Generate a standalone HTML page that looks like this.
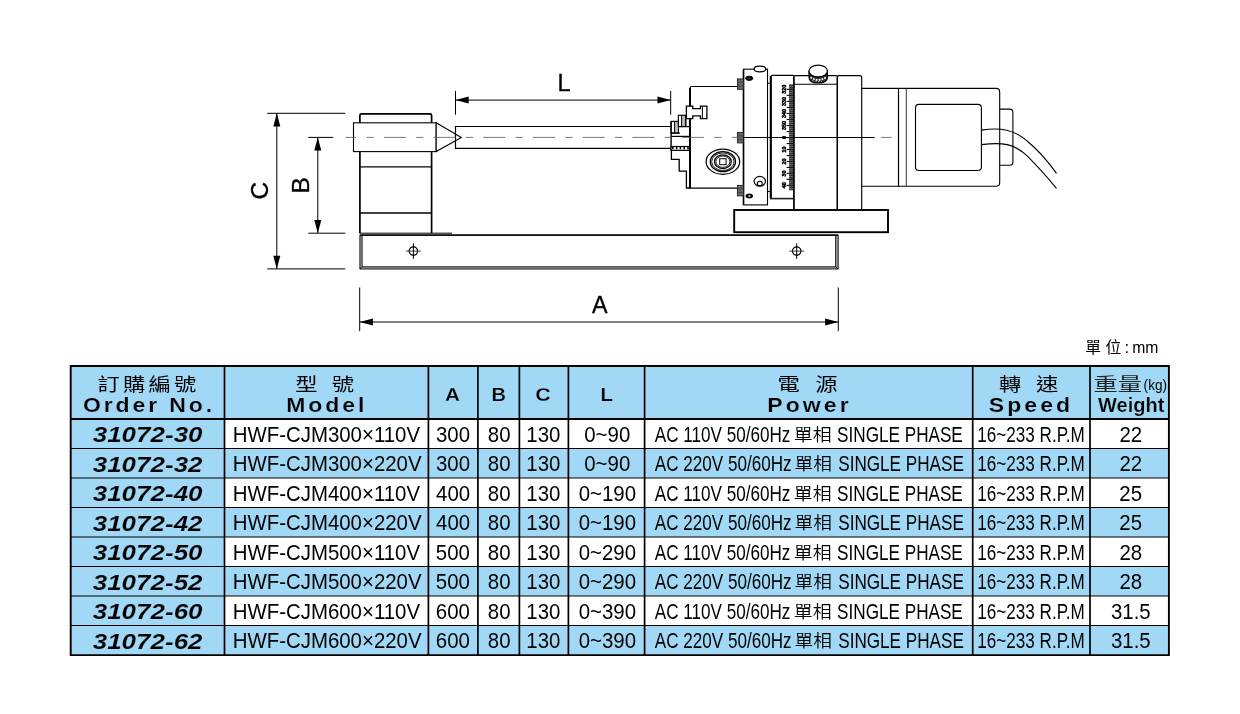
<!DOCTYPE html>
<html lang="zh-Hant">
<head>
<meta charset="utf-8">
<title>HWF-CJM</title>
<style>
html,body{margin:0;padding:0;background:#fff;}
body{width:1240px;height:714px;overflow:hidden;position:relative;}
svg{position:absolute;left:0;top:0;display:block;will-change:transform;}
text{font-family:"Liberation Sans","Noto Sans CJK TC",sans-serif;}
</style>
</head>
<body>
<svg width="1240" height="714" viewBox="0 0 1240 714">
<g id="table">
<rect x="70.7" y="366.0" width="1098.2" height="289.1" fill="#a1d8f5"/>
<rect x="224.5" y="419.0" width="944.4" height="29.5" fill="#fff"/>
<rect x="224.5" y="478.0" width="944.4" height="29.5" fill="#fff"/>
<rect x="224.5" y="537.0" width="944.4" height="29.5" fill="#fff"/>
<rect x="224.5" y="596.0" width="944.4" height="29.5" fill="#fff"/>
<line x1="70.7" y1="448.50" x2="1168.9" y2="448.50" stroke="#000" stroke-width="1.05"/>
<line x1="70.7" y1="478.00" x2="1168.9" y2="478.00" stroke="#000" stroke-width="1.05"/>
<line x1="70.7" y1="507.50" x2="1168.9" y2="507.50" stroke="#000" stroke-width="1.05"/>
<line x1="70.7" y1="537.00" x2="1168.9" y2="537.00" stroke="#000" stroke-width="1.05"/>
<line x1="70.7" y1="566.50" x2="1168.9" y2="566.50" stroke="#000" stroke-width="1.05"/>
<line x1="70.7" y1="596.00" x2="1168.9" y2="596.00" stroke="#000" stroke-width="1.05"/>
<line x1="70.7" y1="625.50" x2="1168.9" y2="625.50" stroke="#000" stroke-width="1.05"/>
<line x1="224.5" y1="366.0" x2="224.5" y2="655.1" stroke="#000" stroke-width="1.7"/>
<line x1="428.4" y1="366.0" x2="428.4" y2="655.1" stroke="#000" stroke-width="1.7"/>
<line x1="477.9" y1="366.0" x2="477.9" y2="655.1" stroke="#000" stroke-width="1.7"/>
<line x1="519.4" y1="366.0" x2="519.4" y2="655.1" stroke="#000" stroke-width="1.7"/>
<line x1="568.4" y1="366.0" x2="568.4" y2="655.1" stroke="#000" stroke-width="1.7"/>
<line x1="644.6" y1="366.0" x2="644.6" y2="655.1" stroke="#000" stroke-width="1.7"/>
<line x1="972.7" y1="366.0" x2="972.7" y2="655.1" stroke="#000" stroke-width="1.7"/>
<line x1="1090.0" y1="366.0" x2="1090.0" y2="655.1" stroke="#000" stroke-width="1.7"/>
<line x1="70.7" y1="419.0" x2="1168.9" y2="419.0" stroke="#000" stroke-width="2.1"/>
<path d="M70.7,655.1V366.0H1168.9V655.1" fill="none" stroke="#000" stroke-width="1.9" stroke-linejoin="miter"/>
<line x1="69.75" y1="655.1" x2="1169.8500000000001" y2="655.1" stroke="#000" stroke-width="1.7"/>
</g>
<g id="tabletext">
<text transform="translate(97.47,390.60) scale(1.2400,1)" font-size="18.0" font-weight="400" letter-spacing="2.599">訂購編號</text>
<text transform="translate(83.02,411.70) scale(1.1700,1)" font-size="19.7" font-weight="bold" letter-spacing="2.443" stroke="#a1d8f5" stroke-width="0.18">Order No.</text>
<text transform="translate(295.27,390.60) scale(1.2400,1)" font-size="18.0" font-weight="400" letter-spacing="3.19">型 號</text>
<text transform="translate(286.24,411.80) scale(1.1700,1)" font-size="19.7" font-weight="bold" letter-spacing="2.463" stroke="#a1d8f5" stroke-width="0.18">Model</text>
<text transform="translate(445.05,400.80) scale(1.0902,1)" font-size="19.0" font-weight="bold" stroke="#a1d8f5" stroke-width="0.25">A</text>
<text transform="translate(491.58,400.80) scale(1.0553,1)" font-size="19.0" font-weight="bold" stroke="#a1d8f5" stroke-width="0.25">B</text>
<text transform="translate(535.25,401.00) scale(1.1280,1)" font-size="19.0" font-weight="bold" stroke="#a1d8f5" stroke-width="0.25">C</text>
<text transform="translate(600.45,400.80) scale(1.0769,1)" font-size="19.0" font-weight="bold" stroke="#a1d8f5" stroke-width="0.25">L</text>
<text transform="translate(777.45,390.60) scale(1.2400,1)" font-size="18.0" font-weight="400" letter-spacing="3.726">電 源</text>
<text transform="translate(767.24,411.80) scale(1.1700,1)" font-size="19.7" font-weight="bold" letter-spacing="2.634" stroke="#a1d8f5" stroke-width="0.18">Power</text>
<text transform="translate(998.97,390.60) scale(1.2400,1)" font-size="18.0" font-weight="400" letter-spacing="3.391">轉 速</text>
<text transform="translate(988.71,411.70) scale(1.1700,1)" font-size="19.7" font-weight="bold" letter-spacing="2.632" stroke="#a1d8f5" stroke-width="0.18">Speed</text>
<text transform="translate(1093.45,391.40) scale(1.3547,1)" font-size="18.0" font-weight="400" fill="#222">重量</text>
<text transform="translate(1143.61,389.80) scale(0.8948,1)" font-size="15.2">(kg)</text>
<text transform="translate(1098.10,411.60) scale(1.0193,1)" font-size="19.6" font-weight="bold" stroke="#a1d8f5" stroke-width="0.2">Weight</text>
<text transform="translate(92.70,442.05) scale(1.1816,1)" font-size="22" font-weight="bold" font-style="italic" stroke="#a1d8f5" stroke-width="0.15">31072-30</text>
<text transform="translate(232.63,441.75) scale(0.9553,1)" font-size="21.4">HWF-CJM300×110V</text>
<text transform="translate(435.93,441.75) scale(0.9550,1)" font-size="21.4">300</text>
<text transform="translate(487.84,441.75) scale(0.9550,1)" font-size="21.4">80</text>
<text transform="translate(526.37,441.75) scale(0.9550,1)" font-size="21.4">130</text>
<text transform="translate(584.26,441.75) scale(0.9550,1)" font-size="21.4">0~90</text>
<text transform="translate(654.80,441.75) scale(0.7994,1)" font-size="21.4">AC 110V 50/60Hz</text>
<text transform="translate(793.72,440.75) scale(1.0758,1)" font-size="17.6" font-weight="350">單相</text>
<text transform="translate(837.10,441.75) scale(0.8013,1)" font-size="21.4">SINGLE PHASE</text>
<text transform="translate(977.30,441.75) scale(0.7992,1)" font-size="21.4">16~233 R.P.M</text>
<text transform="translate(1119.46,441.75) scale(0.9550,1)" font-size="21.4">22</text>
<text transform="translate(92.70,471.55) scale(1.1816,1)" font-size="22" font-weight="bold" font-style="italic" stroke="#a1d8f5" stroke-width="0.15">31072-32</text>
<text transform="translate(232.63,471.25) scale(0.9553,1)" font-size="21.4">HWF-CJM300×220V</text>
<text transform="translate(435.93,471.25) scale(0.9550,1)" font-size="21.4">300</text>
<text transform="translate(487.84,471.25) scale(0.9550,1)" font-size="21.4">80</text>
<text transform="translate(526.37,471.25) scale(0.9550,1)" font-size="21.4">130</text>
<text transform="translate(584.26,471.25) scale(0.9550,1)" font-size="21.4">0~90</text>
<text transform="translate(654.80,471.25) scale(0.7994,1)" font-size="21.4">AC 220V 50/60Hz</text>
<text transform="translate(794.62,470.25) scale(1.0624,1)" font-size="17.6" font-weight="350">單相</text>
<text transform="translate(838.20,471.25) scale(0.8013,1)" font-size="21.4">SINGLE PHASE</text>
<text transform="translate(977.30,471.25) scale(0.7992,1)" font-size="21.4">16~233 R.P.M</text>
<text transform="translate(1119.46,471.25) scale(0.9550,1)" font-size="21.4">22</text>
<text transform="translate(92.70,501.05) scale(1.1816,1)" font-size="22" font-weight="bold" font-style="italic" stroke="#a1d8f5" stroke-width="0.15">31072-40</text>
<text transform="translate(232.63,500.75) scale(0.9553,1)" font-size="21.4">HWF-CJM400×110V</text>
<text transform="translate(436.05,500.75) scale(0.9550,1)" font-size="21.4">400</text>
<text transform="translate(487.84,500.75) scale(0.9550,1)" font-size="21.4">80</text>
<text transform="translate(526.37,500.75) scale(0.9550,1)" font-size="21.4">130</text>
<text transform="translate(578.65,500.75) scale(0.9550,1)" font-size="21.4">0~190</text>
<text transform="translate(654.80,500.75) scale(0.7994,1)" font-size="21.4">AC 110V 50/60Hz</text>
<text transform="translate(793.72,499.75) scale(1.0758,1)" font-size="17.6" font-weight="350">單相</text>
<text transform="translate(837.10,500.75) scale(0.8013,1)" font-size="21.4">SINGLE PHASE</text>
<text transform="translate(977.30,500.75) scale(0.7992,1)" font-size="21.4">16~233 R.P.M</text>
<text transform="translate(1119.34,500.75) scale(0.9550,1)" font-size="21.4">25</text>
<text transform="translate(92.70,530.55) scale(1.1816,1)" font-size="22" font-weight="bold" font-style="italic" stroke="#a1d8f5" stroke-width="0.15">31072-42</text>
<text transform="translate(232.63,530.25) scale(0.9553,1)" font-size="21.4">HWF-CJM400×220V</text>
<text transform="translate(436.05,530.25) scale(0.9550,1)" font-size="21.4">400</text>
<text transform="translate(487.84,530.25) scale(0.9550,1)" font-size="21.4">80</text>
<text transform="translate(526.37,530.25) scale(0.9550,1)" font-size="21.4">130</text>
<text transform="translate(578.65,530.25) scale(0.9550,1)" font-size="21.4">0~190</text>
<text transform="translate(654.80,530.25) scale(0.7994,1)" font-size="21.4">AC 220V 50/60Hz</text>
<text transform="translate(794.62,529.25) scale(1.0624,1)" font-size="17.6" font-weight="350">單相</text>
<text transform="translate(838.20,530.25) scale(0.8013,1)" font-size="21.4">SINGLE PHASE</text>
<text transform="translate(977.30,530.25) scale(0.7992,1)" font-size="21.4">16~233 R.P.M</text>
<text transform="translate(1119.34,530.25) scale(0.9550,1)" font-size="21.4">25</text>
<text transform="translate(92.70,560.05) scale(1.1816,1)" font-size="22" font-weight="bold" font-style="italic" stroke="#a1d8f5" stroke-width="0.15">31072-50</text>
<text transform="translate(232.63,559.75) scale(0.9553,1)" font-size="21.4">HWF-CJM500×110V</text>
<text transform="translate(435.81,559.75) scale(0.9550,1)" font-size="21.4">500</text>
<text transform="translate(487.84,559.75) scale(0.9550,1)" font-size="21.4">80</text>
<text transform="translate(526.37,559.75) scale(0.9550,1)" font-size="21.4">130</text>
<text transform="translate(578.65,559.75) scale(0.9550,1)" font-size="21.4">0~290</text>
<text transform="translate(654.80,559.75) scale(0.7994,1)" font-size="21.4">AC 110V 50/60Hz</text>
<text transform="translate(793.72,558.75) scale(1.0758,1)" font-size="17.6" font-weight="350">單相</text>
<text transform="translate(837.10,559.75) scale(0.8013,1)" font-size="21.4">SINGLE PHASE</text>
<text transform="translate(977.30,559.75) scale(0.7992,1)" font-size="21.4">16~233 R.P.M</text>
<text transform="translate(1119.46,559.75) scale(0.9550,1)" font-size="21.4">28</text>
<text transform="translate(92.70,589.55) scale(1.1816,1)" font-size="22" font-weight="bold" font-style="italic" stroke="#a1d8f5" stroke-width="0.15">31072-52</text>
<text transform="translate(232.63,589.25) scale(0.9553,1)" font-size="21.4">HWF-CJM500×220V</text>
<text transform="translate(435.81,589.25) scale(0.9550,1)" font-size="21.4">500</text>
<text transform="translate(487.84,589.25) scale(0.9550,1)" font-size="21.4">80</text>
<text transform="translate(526.37,589.25) scale(0.9550,1)" font-size="21.4">130</text>
<text transform="translate(578.65,589.25) scale(0.9550,1)" font-size="21.4">0~290</text>
<text transform="translate(654.80,589.25) scale(0.7994,1)" font-size="21.4">AC 220V 50/60Hz</text>
<text transform="translate(794.62,588.25) scale(1.0624,1)" font-size="17.6" font-weight="350">單相</text>
<text transform="translate(838.20,589.25) scale(0.8013,1)" font-size="21.4">SINGLE PHASE</text>
<text transform="translate(977.30,589.25) scale(0.7992,1)" font-size="21.4">16~233 R.P.M</text>
<text transform="translate(1119.46,589.25) scale(0.9550,1)" font-size="21.4">28</text>
<text transform="translate(92.70,619.05) scale(1.1816,1)" font-size="22" font-weight="bold" font-style="italic" stroke="#a1d8f5" stroke-width="0.15">31072-60</text>
<text transform="translate(232.63,618.75) scale(0.9553,1)" font-size="21.4">HWF-CJM600×110V</text>
<text transform="translate(435.81,618.75) scale(0.9550,1)" font-size="21.4">600</text>
<text transform="translate(487.84,618.75) scale(0.9550,1)" font-size="21.4">80</text>
<text transform="translate(526.37,618.75) scale(0.9550,1)" font-size="21.4">130</text>
<text transform="translate(578.65,618.75) scale(0.9550,1)" font-size="21.4">0~390</text>
<text transform="translate(654.80,618.75) scale(0.7994,1)" font-size="21.4">AC 110V 50/60Hz</text>
<text transform="translate(793.72,617.75) scale(1.0758,1)" font-size="17.6" font-weight="350">單相</text>
<text transform="translate(837.10,618.75) scale(0.8013,1)" font-size="21.4">SINGLE PHASE</text>
<text transform="translate(977.30,618.75) scale(0.7992,1)" font-size="21.4">16~233 R.P.M</text>
<text transform="translate(1110.98,618.75) scale(0.9550,1)" font-size="21.4">31.5</text>
<text transform="translate(92.70,648.55) scale(1.1816,1)" font-size="22" font-weight="bold" font-style="italic" stroke="#a1d8f5" stroke-width="0.15">31072-62</text>
<text transform="translate(232.63,648.25) scale(0.9553,1)" font-size="21.4">HWF-CJM600×220V</text>
<text transform="translate(435.81,648.25) scale(0.9550,1)" font-size="21.4">600</text>
<text transform="translate(487.84,648.25) scale(0.9550,1)" font-size="21.4">80</text>
<text transform="translate(526.37,648.25) scale(0.9550,1)" font-size="21.4">130</text>
<text transform="translate(578.65,648.25) scale(0.9550,1)" font-size="21.4">0~390</text>
<text transform="translate(654.80,648.25) scale(0.7994,1)" font-size="21.4">AC 220V 50/60Hz</text>
<text transform="translate(794.62,647.25) scale(1.0624,1)" font-size="17.6" font-weight="350">單相</text>
<text transform="translate(838.20,648.25) scale(0.8013,1)" font-size="21.4">SINGLE PHASE</text>
<text transform="translate(977.30,648.25) scale(0.7992,1)" font-size="21.4">16~233 R.P.M</text>
<text transform="translate(1110.98,648.25) scale(0.9550,1)" font-size="21.4">31.5</text>
<text y="353.2" font-size="15.8"><tspan x="1085.3">單</tspan><tspan x="1105.6">位</tspan><tspan x="1124.4" font-size="16.4">:</tspan><tspan x="1132.2" font-size="16.4" textLength="26.2" lengthAdjust="spacingAndGlyphs">mm</tspan></text>
</g>
<g id="drawing" fill="none" stroke="#000" stroke-width="1.15" stroke-linecap="butt">
<g id="dims" stroke-width="1">
<line x1="267.3" y1="113.3" x2="345.3" y2="113.3"/>
<line x1="267.3" y1="268.9" x2="345.3" y2="268.9"/>
<line x1="276.8" y1="113.3" x2="276.8" y2="268.9"/>
<polygon points="276.8,113.3 273.3,126.5 280.3,126.5" fill="#000" stroke="none"/>
<polygon points="276.8,268.9 273.3,255.7 280.3,255.7" fill="#000" stroke="none"/>
<line x1="308.3" y1="137.4" x2="333.2" y2="137.4"/>
<line x1="308.3" y1="233.2" x2="345.3" y2="233.2"/>
<line x1="317.8" y1="137.4" x2="317.8" y2="233.2"/>
<polygon points="317.8,137.4 314.3,150.6 321.3,150.6" fill="#000" stroke="none"/>
<polygon points="317.8,233.2 314.3,220.0 321.3,220.0" fill="#000" stroke="none"/>
<line x1="455.5" y1="91" x2="455.5" y2="114.7"/>
<line x1="670.7" y1="91" x2="670.7" y2="114.8"/>
<line x1="455.5" y1="100.1" x2="670.7" y2="100.1"/>
<polygon points="455.5,100.1 468.7,96.6 468.7,103.6" fill="#000" stroke="none"/>
<polygon points="670.7,100.1 657.5,96.6 657.5,103.6" fill="#000" stroke="none"/>
<line x1="359.7" y1="287.5" x2="359.7" y2="331.2"/>
<line x1="838.3" y1="287.5" x2="838.3" y2="331.2"/>
<line x1="359.7" y1="322.0" x2="838.3" y2="322.0"/>
<polygon points="359.7,322.0 372.9,318.5 372.9,325.5" fill="#000" stroke="none"/>
<polygon points="838.3,322.0 825.0999999999999,318.5 825.0999999999999,325.5" fill="#000" stroke="none"/>
</g>
<g id="dimlabels" stroke="#000" stroke-width="0.35" fill="#000" font-size="24.4">
<text x="599.7" y="313.1" font-size="23.3" text-anchor="middle">A</text>
<text x="564.0" y="91.3" font-size="23.6" text-anchor="middle">L</text>
<text transform="translate(309.3,185.3) rotate(-90)" text-anchor="middle">B</text>
<text transform="translate(267.8,190.6) rotate(-90)" text-anchor="middle">C</text>
</g>
<g id="tailstock">
<path d="M359.9,233.2V115.4Q359.9,113.9 361.4,113.9H430.1Q431.6,113.9 431.6,115.4V233.2" stroke-width="1.7"/>
<line x1="359.9" y1="166.9" x2="431.6" y2="166.9" stroke-width="1.4"/>
<line x1="359.9" y1="213.0" x2="431.6" y2="213.0" stroke-width="1.4"/>
<rect x="353.5" y="122.8" width="82.7" height="28.8" stroke-width="1.1" fill="#fff"/>
<path d="M436.2,122.8L461.3,137.4L436.2,151.6Z" stroke-width="1.1" fill="#fff"/>
</g>
<g id="rail">
<path d="M359.9,235.1H838.2V269.0H359.9Z" stroke-width="0.9" fill="#aaa"/>
<path d="M362.1,235.3H835.7V266.8H362.1Z" stroke-width="0.9" fill="#fff"/>
<line x1="359.9" y1="235.1" x2="838.2" y2="235.1" stroke-width="1.1"/>
<line x1="359.9" y1="269.1" x2="362.1" y2="266.7" stroke-width="0.8"/>
<line x1="838.2" y1="269.1" x2="835.6" y2="266.7" stroke-width="0.8"/>
<line x1="359.7" y1="233.2" x2="452" y2="233.2" stroke-width="1"/>
<circle cx="413.4" cy="251.1" r="4.2" stroke-width="1.3"/>
<line x1="405.9" y1="251.1" x2="420.9" y2="251.1" stroke-width="1.0" stroke="#444"/>
<line x1="413.4" y1="243.3" x2="413.4" y2="258.9" stroke-width="1.0"/>
<circle cx="796.7" cy="251.1" r="4.2" stroke-width="1.3"/>
<line x1="789.2" y1="251.1" x2="804.2" y2="251.1" stroke-width="1.0" stroke="#444"/>
<line x1="796.7" y1="243.3" x2="796.7" y2="258.9" stroke-width="1.0"/>
</g>
<g id="rod">
<path d="M671,126.5H455.5V148.3H671" stroke-width="1.2"/>
</g>
<rect x="734.2" y="210" width="153.8" height="22.2" stroke-width="1.9" fill="#fff"/>
<g id="chuck">
<path d="M743.3,86.5H691.8Q690,86.5 690,88.3V188.2H743.3" stroke-width="1.2"/>
<line x1="690" y1="88" x2="690" y2="188.2" stroke-width="2"/>
<rect x="671.1" y="121.4" width="7.2" height="11.6" stroke-width="1.2" fill="#fff"/>
<rect x="674.8" y="122" width="2.6" height="10.4" stroke-width="0" fill="#bbb" stroke="none"/>
<rect x="678.4" y="115.3" width="6.9" height="11.2" stroke-width="1.2" fill="#fff"/>
<rect x="681.8" y="116" width="2.8" height="10" stroke-width="0" fill="#bbb" stroke="none"/>
<line x1="674.6" y1="121.4" x2="674.6" y2="133" stroke-width="1"/>
<line x1="681.6" y1="115.3" x2="681.6" y2="126.5" stroke-width="1"/>
<path d="M671.1,121.4V150.4H689.2" stroke-width="1.4"/>
<line x1="671.1" y1="136.4" x2="689.5" y2="136.4" stroke-width="1.2"/>
<line x1="671.1" y1="133.1" x2="680" y2="133.1" stroke-width="1.2"/>
<line x1="678.4" y1="126.6" x2="689" y2="126.6" stroke-width="1.2"/>
<line x1="686" y1="118" x2="686" y2="127" stroke-width="1"/>
<rect x="671.1" y="146.5" width="18.2" height="3.8" stroke-width="1.1" fill="#fff"/>
<line x1="672" y1="148.2" x2="689" y2="148.2" stroke-width="2.2" stroke="#000" stroke-dasharray="1.6 2.2"/>
<path d="M671.4,150.3V159.3H679.2V171.2H686.4V188H690" stroke-width="1.3"/>
<path d="M686.4,106.2H692.8V108.7H700.4V106.2H706.9V118.7H700.4V115.8H692.8V118.7H686.4Z" stroke-width="1.3" fill="#fff"/>
<line x1="702.4" y1="106.2" x2="702.4" y2="118.7" stroke-width="1"/>
<ellipse cx="722.9" cy="161.7" rx="16.8" ry="12.6" stroke-width="1.2"/>
<ellipse cx="722.9" cy="161.7" rx="12.6" ry="10.0" stroke-width="1.3"/>
<ellipse cx="722.9" cy="161.7" rx="11.2" ry="8.8" stroke-width="0.9"/>
<ellipse cx="722.9" cy="161.7" rx="8.4" ry="6.9" stroke-width="1.2"/>
<ellipse cx="722.9" cy="161.7" rx="7" ry="5.7" stroke-width="0.9"/>
<rect x="719.7" y="158.7" width="6.4" height="6.0" stroke-width="1"/>
</g>
<g id="faceplate">
<rect x="743.5" y="69.2" width="24.0" height="135.7" stroke-width="1.1" fill="#fff"/>
<line x1="743.5" y1="69.2" x2="743.5" y2="204.9" stroke-width="1.6"/>
<rect x="737.4" y="78.9" width="6.1" height="10.4" stroke-width="0.9" fill="#666" stroke="#222"/>
<line x1="737.4" y1="82.30000000000001" x2="743.5" y2="82.30000000000001" stroke-width="0.7" stroke="#333"/>
<line x1="737.4" y1="85.9" x2="743.5" y2="85.9" stroke-width="0.7" stroke="#333"/>
<rect x="737.4" y="132.5" width="6.1" height="10.4" stroke-width="0.9" fill="#666" stroke="#222"/>
<line x1="737.4" y1="135.9" x2="743.5" y2="135.9" stroke-width="0.7" stroke="#333"/>
<line x1="737.4" y1="139.5" x2="743.5" y2="139.5" stroke-width="0.7" stroke="#333"/>
<rect x="737.4" y="185.5" width="6.1" height="10.4" stroke-width="0.9" fill="#666" stroke="#222"/>
<line x1="737.4" y1="188.9" x2="743.5" y2="188.9" stroke-width="0.7" stroke="#333"/>
<line x1="737.4" y1="192.5" x2="743.5" y2="192.5" stroke-width="0.7" stroke="#333"/>
<ellipse cx="759.9" cy="69" rx="5.8" ry="2.8" stroke-width="1.2" fill="#fff"/>
<ellipse cx="749.2" cy="78.3" rx="3.6" ry="2.1" stroke-width="1" fill="#000"/>
<ellipse cx="749.3" cy="196" rx="3.4" ry="2.0" stroke-width="1" fill="#000"/>
<ellipse cx="749.4" cy="78.3" rx="1.1" ry="0.6" fill="#777" stroke="none"/><ellipse cx="749.4" cy="196.1" rx="1.3" ry="0.8" fill="#eee" stroke="none"/>
<ellipse cx="759.8" cy="181.3" rx="5.7" ry="4.9" stroke-width="1.2"/><ellipse cx="759.8" cy="183.5" rx="2.5" ry="2.2" stroke-width="1.1"/>
<line x1="767.5" y1="83.2" x2="771" y2="83.2" stroke-width="1"/>
<line x1="767.5" y1="191.4" x2="771" y2="191.4" stroke-width="1"/>
</g>
<g id="dial">
<path d="M771,198.7V76.6Q771,75.4 772.2,75.4H792.7Q793.9,75.4 793.9,76.6" stroke-width="1.3"/>
<line x1="770.7" y1="76" x2="770.7" y2="198.7" stroke-width="1.9"/>
<line x1="770" y1="198.6" x2="793.9" y2="198.6" stroke-width="1.6" stroke="#222"/>
<rect x="789.1" y="84.2" width="4.4" height="106.1" stroke-width="0" fill="#666" stroke="none"/>
<line x1="786.7" y1="89.32" x2="793.4" y2="89.32" stroke-width="1.1"/>
<line x1="786.7" y1="95.35" x2="793.4" y2="95.35" stroke-width="1.1"/>
<line x1="786.7" y1="101.39" x2="793.4" y2="101.39" stroke-width="1.1"/>
<line x1="786.7" y1="107.42" x2="793.4" y2="107.42" stroke-width="1.1"/>
<line x1="786.7" y1="113.46" x2="793.4" y2="113.46" stroke-width="1.1"/>
<line x1="786.7" y1="119.49" x2="793.4" y2="119.49" stroke-width="1.1"/>
<line x1="786.7" y1="125.53" x2="793.4" y2="125.53" stroke-width="1.1"/>
<line x1="786.7" y1="131.56" x2="793.4" y2="131.56" stroke-width="1.1"/>
<line x1="786.7" y1="137.6" x2="793.4" y2="137.6" stroke-width="1.1"/>
<line x1="786.7" y1="143.56" x2="793.4" y2="143.56" stroke-width="1.1"/>
<line x1="786.7" y1="149.53" x2="793.4" y2="149.53" stroke-width="1.1"/>
<line x1="786.7" y1="155.5" x2="793.4" y2="155.5" stroke-width="1.1"/>
<line x1="786.7" y1="161.46" x2="793.4" y2="161.46" stroke-width="1.1"/>
<line x1="786.7" y1="167.42" x2="793.4" y2="167.42" stroke-width="1.1"/>
<line x1="786.7" y1="173.39" x2="793.4" y2="173.39" stroke-width="1.1"/>
<line x1="786.7" y1="179.35" x2="793.4" y2="179.35" stroke-width="1.1"/>
<line x1="786.7" y1="185.32" x2="793.4" y2="185.32" stroke-width="1.1"/>
<line x1="789.1" y1="85.6" x2="793.4" y2="85.6" stroke-width="0.8" stroke="#222"/>
<line x1="789.1" y1="87.6" x2="793.4" y2="87.6" stroke-width="0.8" stroke="#222"/>
<line x1="789.1" y1="89.6" x2="793.4" y2="89.6" stroke-width="0.8" stroke="#222"/>
<line x1="789.1" y1="91.6" x2="793.4" y2="91.6" stroke-width="0.8" stroke="#222"/>
<line x1="789.1" y1="93.6" x2="793.4" y2="93.6" stroke-width="0.8" stroke="#222"/>
<line x1="789.1" y1="95.6" x2="793.4" y2="95.6" stroke-width="0.8" stroke="#222"/>
<line x1="789.1" y1="97.6" x2="793.4" y2="97.6" stroke-width="0.8" stroke="#222"/>
<line x1="789.1" y1="99.6" x2="793.4" y2="99.6" stroke-width="0.8" stroke="#222"/>
<line x1="789.1" y1="101.6" x2="793.4" y2="101.6" stroke-width="0.8" stroke="#222"/>
<line x1="789.1" y1="103.6" x2="793.4" y2="103.6" stroke-width="0.8" stroke="#222"/>
<line x1="789.1" y1="105.6" x2="793.4" y2="105.6" stroke-width="0.8" stroke="#222"/>
<line x1="789.1" y1="107.6" x2="793.4" y2="107.6" stroke-width="0.8" stroke="#222"/>
<line x1="789.1" y1="109.6" x2="793.4" y2="109.6" stroke-width="0.8" stroke="#222"/>
<line x1="789.1" y1="111.6" x2="793.4" y2="111.6" stroke-width="0.8" stroke="#222"/>
<line x1="789.1" y1="113.6" x2="793.4" y2="113.6" stroke-width="0.8" stroke="#222"/>
<line x1="789.1" y1="115.6" x2="793.4" y2="115.6" stroke-width="0.8" stroke="#222"/>
<line x1="789.1" y1="117.6" x2="793.4" y2="117.6" stroke-width="0.8" stroke="#222"/>
<line x1="789.1" y1="119.6" x2="793.4" y2="119.6" stroke-width="0.8" stroke="#222"/>
<line x1="789.1" y1="121.6" x2="793.4" y2="121.6" stroke-width="0.8" stroke="#222"/>
<line x1="789.1" y1="123.6" x2="793.4" y2="123.6" stroke-width="0.8" stroke="#222"/>
<line x1="789.1" y1="125.6" x2="793.4" y2="125.6" stroke-width="0.8" stroke="#222"/>
<line x1="789.1" y1="127.6" x2="793.4" y2="127.6" stroke-width="0.8" stroke="#222"/>
<line x1="789.1" y1="129.6" x2="793.4" y2="129.6" stroke-width="0.8" stroke="#222"/>
<line x1="789.1" y1="131.6" x2="793.4" y2="131.6" stroke-width="0.8" stroke="#222"/>
<line x1="789.1" y1="133.6" x2="793.4" y2="133.6" stroke-width="0.8" stroke="#222"/>
<line x1="789.1" y1="135.6" x2="793.4" y2="135.6" stroke-width="0.8" stroke="#222"/>
<line x1="789.1" y1="137.6" x2="793.4" y2="137.6" stroke-width="0.8" stroke="#222"/>
<line x1="789.1" y1="139.6" x2="793.4" y2="139.6" stroke-width="0.8" stroke="#222"/>
<line x1="789.1" y1="141.6" x2="793.4" y2="141.6" stroke-width="0.8" stroke="#222"/>
<line x1="789.1" y1="143.6" x2="793.4" y2="143.6" stroke-width="0.8" stroke="#222"/>
<line x1="789.1" y1="145.6" x2="793.4" y2="145.6" stroke-width="0.8" stroke="#222"/>
<line x1="789.1" y1="147.6" x2="793.4" y2="147.6" stroke-width="0.8" stroke="#222"/>
<line x1="789.1" y1="149.6" x2="793.4" y2="149.6" stroke-width="0.8" stroke="#222"/>
<line x1="789.1" y1="151.6" x2="793.4" y2="151.6" stroke-width="0.8" stroke="#222"/>
<line x1="789.1" y1="153.6" x2="793.4" y2="153.6" stroke-width="0.8" stroke="#222"/>
<line x1="789.1" y1="155.6" x2="793.4" y2="155.6" stroke-width="0.8" stroke="#222"/>
<line x1="789.1" y1="157.6" x2="793.4" y2="157.6" stroke-width="0.8" stroke="#222"/>
<line x1="789.1" y1="159.6" x2="793.4" y2="159.6" stroke-width="0.8" stroke="#222"/>
<line x1="789.1" y1="161.6" x2="793.4" y2="161.6" stroke-width="0.8" stroke="#222"/>
<line x1="789.1" y1="163.6" x2="793.4" y2="163.6" stroke-width="0.8" stroke="#222"/>
<line x1="789.1" y1="165.6" x2="793.4" y2="165.6" stroke-width="0.8" stroke="#222"/>
<line x1="789.1" y1="167.6" x2="793.4" y2="167.6" stroke-width="0.8" stroke="#222"/>
<line x1="789.1" y1="169.6" x2="793.4" y2="169.6" stroke-width="0.8" stroke="#222"/>
<line x1="789.1" y1="171.6" x2="793.4" y2="171.6" stroke-width="0.8" stroke="#222"/>
<line x1="789.1" y1="173.6" x2="793.4" y2="173.6" stroke-width="0.8" stroke="#222"/>
<line x1="789.1" y1="175.6" x2="793.4" y2="175.6" stroke-width="0.8" stroke="#222"/>
<line x1="789.1" y1="177.6" x2="793.4" y2="177.6" stroke-width="0.8" stroke="#222"/>
<line x1="789.1" y1="179.6" x2="793.4" y2="179.6" stroke-width="0.8" stroke="#222"/>
<line x1="789.1" y1="181.6" x2="793.4" y2="181.6" stroke-width="0.8" stroke="#222"/>
<line x1="789.1" y1="183.6" x2="793.4" y2="183.6" stroke-width="0.8" stroke="#222"/>
<line x1="789.1" y1="185.6" x2="793.4" y2="185.6" stroke-width="0.8" stroke="#222"/>
<line x1="789.1" y1="187.6" x2="793.4" y2="187.6" stroke-width="0.8" stroke="#222"/>
<line x1="789.1" y1="189.6" x2="793.4" y2="189.6" stroke-width="0.8" stroke="#222"/>
<g stroke="#000" stroke-width="0.45" fill="#000" font-size="5.4" font-weight="bold" text-anchor="middle">
<text transform="translate(786.1,89.3) rotate(-90)">320</text>
<text transform="translate(786.1,101.4) rotate(-90)">330</text>
<text transform="translate(786.1,113.5) rotate(-90)">340</text>
<text transform="translate(786.1,125.5) rotate(-90)">350</text>
<text transform="translate(786.1,137.6) rotate(-90)">0</text>
<text transform="translate(786.1,149.5) rotate(-90)">10</text>
<text transform="translate(786.1,161.5) rotate(-90)">20</text>
<text transform="translate(786.1,173.4) rotate(-90)">30</text>
<text transform="translate(786.1,185.3) rotate(-90)">40</text>
</g>
</g>
<g id="housing">
<path d="M793.9,209.5V76.8Q793.9,75.6 795.1,75.6H836.2Q837.4,75.6 837.4,76.8" stroke-width="1.15"/>
<line x1="793.9" y1="84.2" x2="837.4" y2="84.2" stroke-width="1.1"/>
<line x1="793.9" y1="77" x2="793.9" y2="209.5" stroke-width="1.4"/>
<path d="M837.4,209.5V76.8Q837.4,75.6 838.6,75.6H859.7Q861.7,75.6 861.7,77.6V209.5" stroke-width="1.15"/>
<line x1="837.3" y1="77" x2="837.3" y2="209.5" stroke-width="1.4"/>
<path d="M809,71V77.2Q809,83 818.2,83Q827.4,83 827.4,77.2V71Z" stroke-width="1.2" fill="#2a2a2a"/>
<path d="M810.4,77.4Q818.2,82.2 826,77.4" stroke-width="1.7" fill="none" stroke="#fff" stroke-dasharray="1.8 1.1"/>
<path d="M812.6,80.6Q818.2,82.6 823.8,80.6" stroke-width="0.9" fill="none" stroke="#ddd" stroke-dasharray="1.2 1.6"/>
<ellipse cx="818.2" cy="71" rx="9.2" ry="5.9" stroke-width="1.2" fill="#fff"/>
</g>
<g id="motor">
<path d="M861.7,88.4H996Q999.7,88.4 999.7,92.2V182.4Q999.7,186.2 996,186.2H861.7" stroke-width="1.1"/>
<line x1="898.5" y1="88.4" x2="898.5" y2="186.2" stroke-width="1.2"/>
<line x1="906.3" y1="88.4" x2="906.3" y2="186.2" stroke-width="1.1" stroke="#444"/>
<rect x="915.5" y="104.4" width="65.9" height="66.1" rx="3.5" stroke-width="1.1" fill="#fff"/>
<path d="M999.7,109.1H1009.6Q1012.9,109.1 1012.9,112.4V161.9Q1012.9,165.2 1009.6,165.2H999.7" stroke-width="1.1"/>
<path d="M981.4,130.1C1001,127.3 1014,129.6 1027.4,141.2C1040,151.5 1047,160 1056.5,173.4" stroke-width="1.1"/>
<path d="M981.4,144.6C1002,142.2 1014,143.2 1027.4,156.2C1040,168.8 1047,177 1056.5,188.3" stroke-width="1.1"/>
</g>
<g id="centre" stroke="#555" stroke-width="0.8">
<path d="M345.6,137.4H743" stroke-dasharray="22 10.3 7.2 10.2" stroke-dashoffset="11.4"/>
<line x1="880.9" y1="137.4" x2="891.6" y2="137.4"/>
</g>
<line x1="743.3" y1="137.5" x2="874.6" y2="137.5" stroke-width="1.2"/>
</g>
</svg>
</body>
</html>
